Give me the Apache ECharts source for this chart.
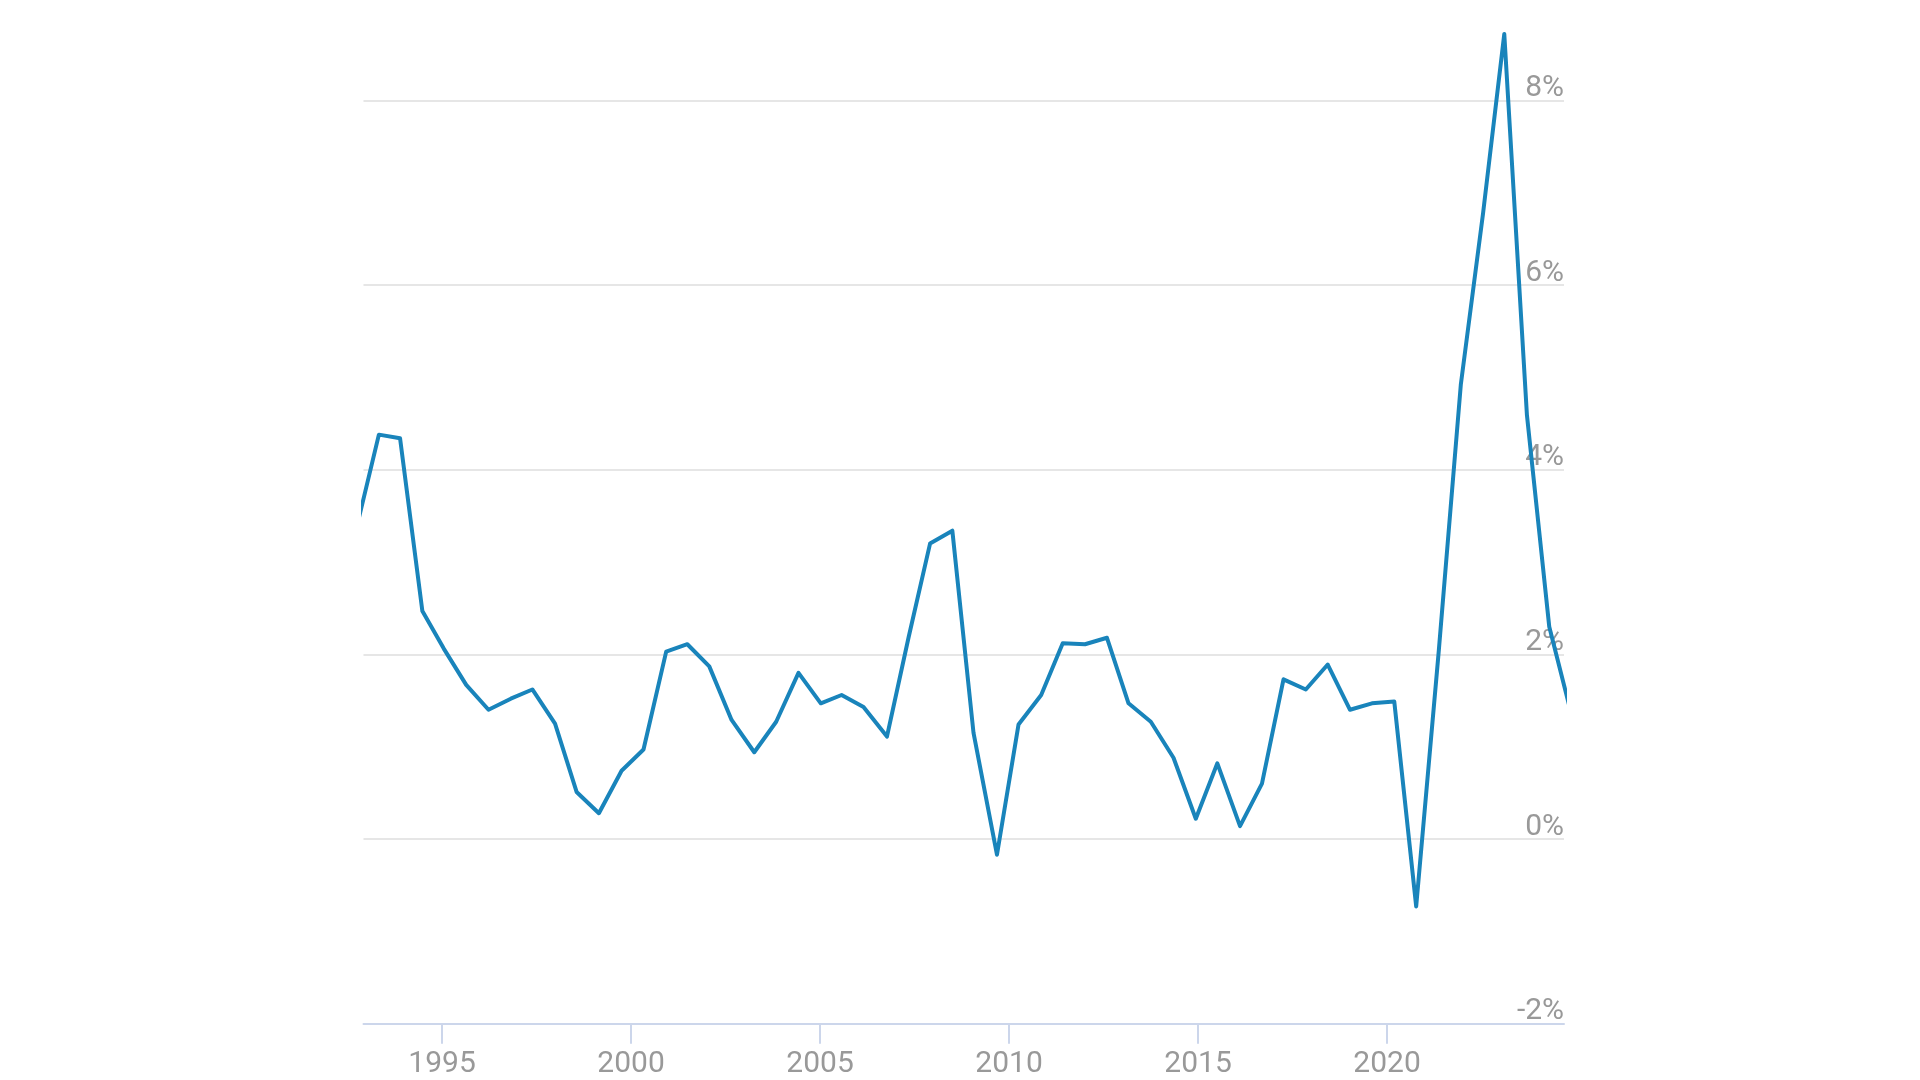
<!DOCTYPE html>
<html>
<head>
<meta charset="utf-8">
<script src="https://cdn.jsdelivr.net/npm/echarts@6/dist/echarts.min.js"></script>
<style>
html,body{margin:0;padding:0;background:#fff;}
#chart{width:1920px;height:1080px;}
</style>
</head>
<body>
<div id="chart"></div>
<script>
// Time positions (in years) of the line's points
const years = [1992.75, 1993.33, 1993.89, 1994.48, 1995.05, 1995.64, 1996.23, 1996.82, 1997.39, 1997.99,
  1998.56, 1999.15, 1999.75, 2000.33, 2000.93, 2001.49, 2002.07, 2002.66, 2003.26, 2003.84,
  2004.43, 2005.02, 2005.57, 2006.15, 2006.77, 2007.34, 2007.91, 2008.50, 2009.06, 2009.68,
  2010.25, 2010.85, 2011.42, 2012.01, 2012.59, 2013.16, 2013.75, 2014.35, 2014.94, 2015.51,
  2016.11, 2016.69, 2017.26, 2017.85, 2018.43, 2019.02, 2019.60, 2020.19, 2020.77, 2021.37,
  2021.95, 2022.54, 2023.10, 2023.70, 2024.29, 2024.87];
// Values in percent
const values = [3.39, 4.38, 4.34, 2.47, 2.06, 1.67, 1.40, 1.52, 1.62, 1.25,
  0.51, 0.28, 0.74, 0.97, 2.03, 2.11, 1.87, 1.29, 0.94, 1.27,
  1.80, 1.47, 1.56, 1.43, 1.11, 2.18, 3.20, 3.34, 1.15, -0.17,
  1.24, 1.56, 2.12, 2.11, 2.18, 1.47, 1.27, 0.88, 0.22, 0.82,
  0.14, 0.60, 1.73, 1.62, 1.89, 1.40, 1.47, 1.49, -0.73, 2.05,
  4.92, 6.78, 8.72, 4.59, 2.30, 1.36];
// Axis ticks
const xTickYears = [1995, 2000, 2005, 2010, 2015, 2020];
const xMin = 1992.923, xMax = 2024.68;
const yMin = -2, yMax = 9, yStep = 2;

const seriesData = years.map((y, i) => [y, values[i]]);

const chart = echarts.init(document.getElementById('chart'));
chart.setOption({
  animation: false,
  backgroundColor: '#ffffff',
  grid: { left: 363.5, right: 356, top: 8.1, bottom: 56.3, containLabel: false },
  xAxis: {
    type: 'value',
    min: xMin,
    max: xMax,
    splitLine: { show: false },
    axisLine: { show: true, onZero: false, lineStyle: { color: '#ccd6eb', width: 2 } },
    axisTick: { show: true, length: 20, lineStyle: { color: '#ccd6eb', width: 2 }, customValues: xTickYears },
    axisLabel: {
      customValues: xTickYears,
      margin: 26,
      color: '#999999',
      fontFamily: 'Roboto',
      fontSize: 30,
      formatter: v => String(Math.round(v))
    }
  },
  yAxis: {
    type: 'value',
    position: 'right',
    min: yMin,
    max: yMax,
    interval: yStep,
    axisLine: { show: false },
    axisTick: { show: false },
    splitLine: { show: true, showMaxLine: false, showMinLine: false, lineStyle: { color: '#e6e6e6', width: 2 } },
    axisLabel: {
      inside: true,
      margin: 0,
      showMaxLabel: false,
      verticalAlign: 'bottom',
      lineHeight: 24,
      padding: [0, 0, 0, 0],
      color: '#999999',
      fontFamily: 'Roboto',
      fontSize: 30,
      formatter: v => v + '%'
    }
  },
  series: [{
    type: 'line',
    data: seriesData,
    showSymbol: false,
    symbol: 'none',
    clip: true,
    lineStyle: { color: '#1984bb', width: 4, join: 'round', cap: 'round' },
    z: 5
  }]
});
</script>
</body>
</html>
